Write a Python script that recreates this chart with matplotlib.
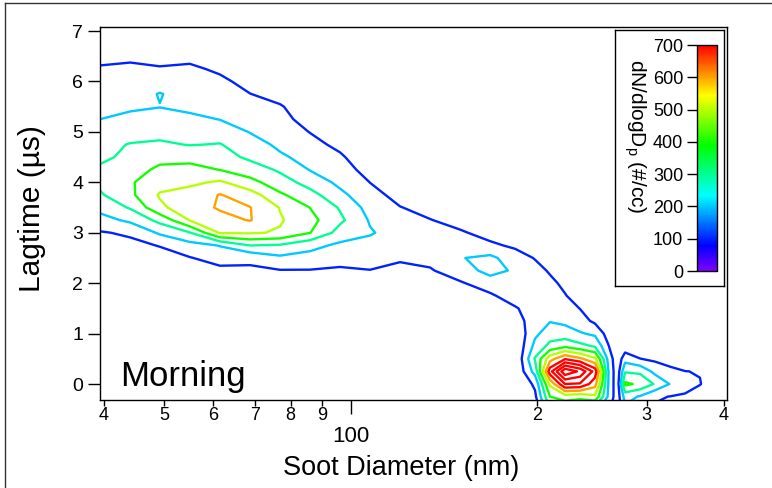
import numpy as np
import matplotlib
matplotlib.use("Agg")
import matplotlib.pyplot as plt
from matplotlib import colors, ticker
from matplotlib.cm import ScalarMappable
from matplotlib.lines import Line2D

plt.rcParams["font.family"] = ["Liberation Sans", "DejaVu Sans"]

# grid: diameter bins (nm) and lagtime rows (us)
DIAMETER_NM = [39.0, 44.1, 49.2, 55.0, 61.5, 68.8, 76.9, 86.0, 96.1, 107.4,
               120.1, 134.3, 150.1, 167.8, 184.1, 198.3, 209.6, 221.6, 234.3, 247.7,
               260.0, 268.9, 277.0, 292.9, 309.6, 327.4, 346.1, 365.9, 386.9, 409.0]
LAGTIME_US = [-0.5, -0.25, 0.0, 0.25, 0.5, 0.75, 1.0, 1.25, 1.5, 1.75, 2.0,
              2.25, 2.5, 2.75, 3.0, 3.25, 3.5, 3.75, 4.0, 4.25, 4.5, 4.75,
              5.0, 5.25, 5.5, 5.75, 6.0, 6.25, 6.5, 6.75, 7.0]

# dN/dlogDp (#/cc), one list per diameter bin, from bottom row to top row
DNDLOGDP_BY_DIAMETER = [
    [0] * 11 + [10, 30, 60, 90, 160, 225, 280, 315, 305, 290, 270, 240, 198, 170, 150, 130, 110, 70, 30, 0],
    [0] * 10 + [5, 20, 50, 75, 115, 220, 310, 380, 390, 360, 310, 305, 260, 225, 185, 160, 140, 120, 80, 30, 0],
    [0] * 10 + [10, 30, 60, 105, 215, 330, 480, 510, 460, 420, 370, 315, 270, 230, 198, 205, 160, 110, 60, 20, 0],
    [0] * 9 + [5, 20, 50, 95, 165, 295, 505, 560, 540, 480, 430, 370, 295, 260, 220, 180, 160, 140, 120, 70, 20, 0],
    [0] * 9 + [10, 30, 75, 140, 205, 510, 570, 610, 605, 515, 398, 340, 305, 250, 198, 170, 150, 125, 80, 30, 0, 0],
    [0] * 9 + [10, 40, 85, 120, 302, 510, 605, 603, 545, 430, 350, 280, 240, 196, 170, 140, 102, 60, 20, 0, 0, 0],
    [0] * 9 + [15, 45, 95, 180, 290, 490, 510, 495, 415, 345, 285, 215, 180, 150, 130, 110, 60, 20, 0, 0, 0, 0],
    [0] * 9 + [20, 50, 95, 165, 230, 402, 430, 398, 335, 260, 195, 165, 130, 97, 60, 30, 10, 0, 0, 0, 0, 0],
    [0] * 9 + [25, 55, 90, 125, 180, 260, 320, 290, 225, 175, 145, 115, 75, 40, 10] + [0] * 7,
    [0] * 9 + [30, 60, 98, 130, 165, 210, 190, 160, 130, 99, 60, 25, 5] + [0] * 9,
    [0] * 9 + [20, 50, 80, 110, 140, 150, 130, 103, 70, 40, 10] + [0] * 11,
    [0] * 8 + [10, 30, 65, 92, 125, 150, 135, 103, 70, 35, 10] + [0] * 12,
    [0] * 7 + [10, 30, 60, 90, 150, 195, 150, 110, 70, 35, 10] + [0] * 13,
    [0] * 6 + [5, 20, 50, 85, 150, 235, 225, 115, 70, 35, 10] + [0] * 14,
    [0] * 5 + [5, 15, 50, 90, 150, 198, 185, 140, 85, 40, 10] + [0] * 15,
    [20, 80, 120, 240, 310, 230, 180, 160, 150, 170, 160, 130, 95, 50, 15] + [0] * 16,
    [300, 400, 520, 760, 560, 330, 250, 195, 170, 150, 120, 90, 50, 20] + [0] * 17,
    [300, 450, 800, 1080, 690, 380, 240, 180, 140, 105, 80, 40, 15] + [0] * 18,
    [280, 430, 790, 980, 620, 330, 210, 140, 98, 60, 30, 5] + [0] * 19,
    [230, 480, 640, 760, 520, 290, 180, 80, 40, 15] + [0] * 21,
    [130, 190, 205, 210, 180, 110, 60, 20] + [0] * 23,
    [30, 40, 30, 30, 25, 10] + [0] * 25,
    [180, 240, 420, 290, 160, 40] + [0] * 25,
    [120, 190, 380, 280, 102, 20] + [0] * 25,
    [90, 110, 290, 170, 80, 10] + [0] * 25,
    [60, 98, 195, 130, 50, 0] + [0] * 25,
    [40, 80, 160, 102, 30, 0] + [0] * 25,
    [10, 40, 105, 95, 20, 0] + [0] * 25,
    [0, 10, 30, 25, 5, 0] + [0] * 25,
    [0] * 31,
]

CONTOUR_LEVELS = [100, 200, 300, 400, 500, 600, 700, 800, 900, 1000]
CBAR_TICKS = [0, 100, 200, 300, 400, 500, 600, 700]
MAJOR_X_TICKS = [100]
MINOR_X_TICKS = [40, 50, 60, 70, 80, 90, 200, 300, 400]

W, H = 772, 488


def rainbow_cmap():
    # violet -> blue -> cyan -> green -> yellow -> red, like Igor's Rainbow
    t = np.linspace(0, 1, 256)
    hsv = np.stack([0.75 * (1 - t), np.ones_like(t), np.ones_like(t)], axis=1)
    return colors.ListedColormap(colors.hsv_to_rgb(hsv))


def minor_label(v, pos):
    return str(int(round(v / 10))) if v < 100 else str(int(round(v / 100)))


def main():
    cmap = rainbow_cmap()
    norm = colors.Normalize(vmin=0, vmax=700)
    z = np.array(DNDLOGDP_BY_DIAMETER, dtype=float).T

    fig = plt.figure(figsize=(W / 100, H / 100), dpi=100)
    ax = fig.add_axes([100 / W, 1 - 400 / H, 627 / W, 373 / H])

    ax.contour(DIAMETER_NM, LAGTIME_US, z, levels=CONTOUR_LEVELS,
               cmap=cmap, norm=norm, linewidths=1.7)

    ax.set_xscale("log")
    ax.set_xlim(39.4, 404.5)
    ax.set_ylim(-0.317, 7.08)
    ax.set_yticks(range(0, 8))

    ax.xaxis.set_major_locator(ticker.FixedLocator(MAJOR_X_TICKS))
    ax.xaxis.set_major_formatter(ticker.FixedFormatter(["100"]))
    ax.xaxis.set_minor_locator(ticker.FixedLocator(MINOR_X_TICKS))
    ax.xaxis.set_minor_formatter(ticker.FuncFormatter(minor_label))

    ax.tick_params(axis="y", direction="out", length=9, width=1, labelsize=14, pad=3)
    ax.tick_params(axis="x", which="major", direction="out", length=10, width=1,
                   labelsize=16, pad=9)
    ax.tick_params(axis="x", which="minor", direction="out", length=4, width=1,
                   labelsize=13, pad=1)
    for spine in ax.spines.values():
        spine.set_linewidth(1)

    fig.text(32 / W, 1 - 209 / H, "Lagtime (\u00b5s)", rotation=90,
             ha="center", va="center", fontsize=21.5)
    fig.text(401 / W, 1 - 468 / H, "Soot Diameter (nm)",
             ha="center", va="center", fontsize=19.5)
    fig.text(120 / W, 1 - 386 / H, "Morning", ha="left", va="baseline", fontsize=25)

    # framed colour scale in the upper right corner
    box = fig.add_axes([615 / W, 1 - 286 / H, 109 / W, 256 / H])
    box.set_xticks([])
    box.set_yticks([])
    for spine in box.spines.values():
        spine.set_linewidth(1)

    cax = fig.add_axes([697 / W, 1 - 271 / H, 20 / W, 226 / H])
    cb = fig.colorbar(ScalarMappable(norm=norm, cmap=cmap), cax=cax, ticks=CBAR_TICKS)
    cb.outline.set_linewidth(1)
    cax.yaxis.set_ticks_position("left")
    cax.yaxis.set_label_position("left")
    cax.tick_params(length=7, width=1, labelsize=13, pad=3)
    fig.text(635 / W, 1 - 136 / H, "dN/dlogD$_\\mathregular{p}$ (#/cc)", rotation=270,
             ha="center", va="center", fontsize=15)

    # outer frame, only its top and left edges fall inside the picture
    fig.add_artist(Line2D([5 / W, 1], [1 - 3 / H, 1 - 3 / H], color="#333333", lw=1))
    fig.add_artist(Line2D([5 / W, 5 / W], [0, 1 - 3 / H], color="#333333", lw=1))

    fig.savefig("out.png", dpi=100)
    plt.close(fig)


if __name__ == "__main__":
    main()
